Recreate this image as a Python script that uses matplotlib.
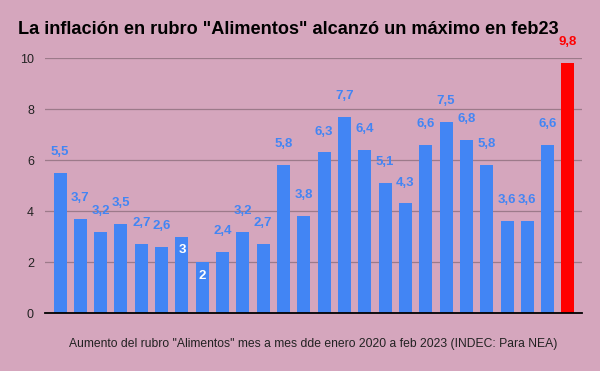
import matplotlib
matplotlib.use("Agg")
import matplotlib.pyplot as plt
import numpy as np

plt.rcParams["font.family"] = ["Liberation Sans", "DejaVu Sans"]

# Monthly increase of the "Alimentos" item (INDEC, NEA region)
values = [5.5, 3.7, 3.2, 3.5, 2.7, 2.6, 3.0, 2.0, 2.4, 3.2, 2.7, 5.8, 3.8,
          6.3, 7.7, 6.4, 5.1, 4.3, 6.6, 7.5, 6.8, 5.8, 3.6, 3.6, 6.6, 9.8]
inside_labels = [6, 7]          # indices whose label sits inside the bar
highlight = len(values) - 1     # feb23
yticks = [0, 2, 4, 6, 8, 10]

BG = "#d5a6bd"
BLUE = "#4285f4"
RED = "#ff0000"


def fmt(v):
    s = f"{v:.1f}".replace(".", ",")
    return s[:-2] if s.endswith(",0") else s


fig = plt.figure(figsize=(6.0, 3.71), dpi=100, facecolor=BG)
ax = fig.add_axes([0.075, 0.156, 0.895, 0.6875], facecolor=BG)

x = np.arange(len(values))
colors = [RED if i == highlight else BLUE for i in x]
ax.bar(x, values, width=0.64, color=colors, zorder=3, clip_on=False)

for i, v in zip(x, values):
    if i in inside_labels:
        ax.annotate(fmt(v), (i, v), xytext=(0, -10), textcoords="offset points",
                    ha="center", va="center", fontsize=9.5, fontweight="bold",
                    color="white", zorder=4)
    else:
        c = RED if i == highlight else BLUE
        ax.annotate(fmt(v), (i, v), xytext=(0, 15), textcoords="offset points",
                    ha="center", va="center", fontsize=9.5, fontweight="bold",
                    color=c, zorder=4, annotation_clip=False)

ax.set_xlim(-0.74, len(values) - 1 + 0.69)
ax.set_ylim(0, 10)
ax.set_yticks(yticks)
ax.set_yticklabels([str(t) for t in yticks], fontsize=9, color="#222222")
ax.set_xticks([])
ax.tick_params(axis="y", length=0, pad=8)
ax.grid(axis="y", color="#9c7a8a", linewidth=0.9, zorder=0)
for s in ["top", "right", "left"]:
    ax.spines[s].set_visible(False)
ax.spines["bottom"].set_color("black")
ax.spines["bottom"].set_linewidth(1.3)
ax.spines["bottom"].set_zorder(5)

fig.text(0.03, 0.92, 'La inflación en rubro "Alimentos" alcanzó un máximo en feb23',
         fontsize=13.1, fontweight="bold", color="black", ha="left", va="center")
fig.text(0.522, 0.073,
         'Aumento del rubro "Alimentos" mes a mes dde enero 2020 a feb 2023 (INDEC: Para NEA)',
         fontsize=8.75, color="#222222", ha="center", va="center")

fig.savefig("out.png", dpi=100, facecolor=BG)
